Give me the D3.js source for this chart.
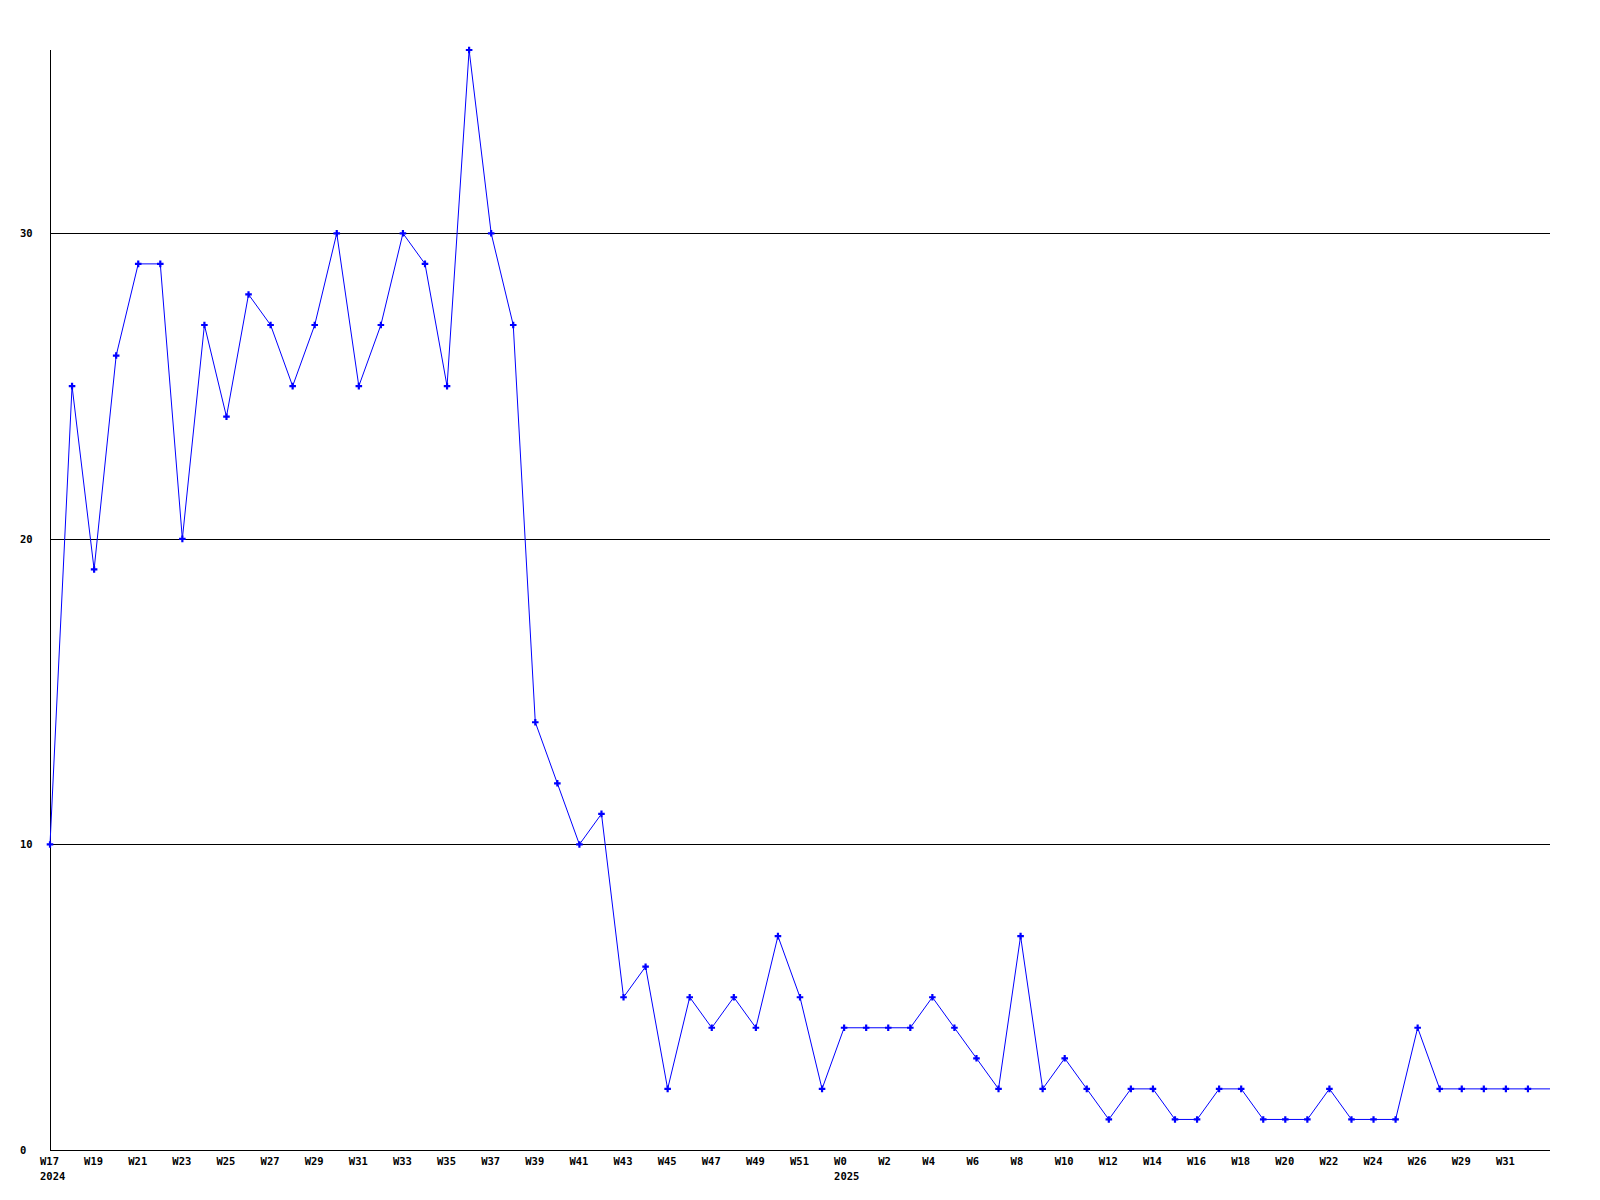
<!DOCTYPE html>
<html>
<head>
<meta charset="utf-8">
<script src="https://cdn.jsdelivr.net/npm/d3@7"></script>
<style>
  html, body { margin: 0; padding: 0; background: #fff; }
  svg { display: block; }
  text { font-family: "DejaVu Sans Mono", "Liberation Mono", monospace; font-weight: bold; font-size: 10.5px; fill: #000; }
</style>
</head>
<body>
<svg id="chart" width="1600" height="1200"></svg>
<script>
// Week categories (one per point)
const weeks = [
  "W17","W18","W19","W20","W21","W22","W23","W24","W25","W26","W27","W28",
  "W29","W30","W31","W32","W33","W34","W35","W36","W37","W38","W39","W40",
  "W41","W42","W43","W44","W45","W46","W47","W48","W49","W50","W51","W52",
  "W0","W1","W2","W3","W4","W5","W6","W7","W8","W9","W10","W11",
  "W12","W13","W14","W15","W16","W17","W18","W19","W20","W21","W22","W23",
  "W24","W25","W26","W28","W29","W30","W31","W32","W33"
];
// Values per week
const values = [
  10, 25, 19, 26, 29, 29, 20, 27, 24, 28, 27, 25,
  27, 30, 25, 27, 30, 29, 25, 36, 30, 27, 14, 12,
  10, 11, 5, 6, 2, 5, 4, 5, 4, 7, 5, 2,
  4, 4, 4, 4, 5, 4, 3, 2, 7, 2, 3, 2,
  1, 2, 2, 1, 1, 2, 2, 1, 1, 1, 2, 1,
  1, 1, 4, 2, 2, 2, 2, 2, 2
];
// Year labels: index in weeks -> year
const yearIndex = [0, 36];
const yearLabels = ["2024", "2025"];
// Y tick values
const yTicks = [0, 10, 20, 30];
const yMax = 36;

(function () {
const svg = d3.select("#chart");
const mLeft = 50, mRight = 1550, mTop = 50, mBottom = 1150;

const x = d3.scaleLinear().domain([0, weeks.length - 1]).range([mLeft, mRight]);
const y = d3.scaleLinear().domain([0, yMax]).range([mBottom, mTop]);

// Gridlines
svg.append("g").selectAll("line").data(yTicks.filter(d => d > 0)).join("line")
  .attr("x1", mLeft).attr("x2", mRight)
  .attr("y1", d => Math.round(y(d)) + 0.5).attr("y2", d => Math.round(y(d)) + 0.5)
  .attr("stroke", "#000").attr("stroke-width", 1);

// Axes lines
svg.append("line").attr("x1", mLeft + 0.5).attr("x2", mLeft + 0.5)
  .attr("y1", mTop).attr("y2", mBottom).attr("stroke", "#000");
svg.append("line").attr("x1", mLeft).attr("x2", mRight)
  .attr("y1", mBottom + 0.5).attr("y2", mBottom + 0.5).attr("stroke", "#000");

// Y labels
svg.append("g").selectAll("text").data(yTicks).join("text")
  .attr("x", 20).attr("y", d => y(d)).attr("dy", "0.35em")
  .text(d => d);

// X labels (every second week)
const xIdx = d3.range(0, weeks.length - 1, 2);
svg.append("g").selectAll("text").data(xIdx).join("text")
  .attr("x", i => x(i) - 10).attr("y", 1165)
  .text(i => weeks[i]);

svg.append("g").selectAll("text").data(yearIndex).join("text")
  .attr("x", i => x(i) - 10).attr("y", 1180)
  .text((i, k) => yearLabels[k]);

// Line
const line = d3.line().x((d, i) => x(i)).y(d => y(d));
svg.append("path").datum(values)
  .attr("d", line).attr("fill", "none")
  .attr("stroke", "#0000ff").attr("stroke-width", 1);

// Markers (last point drawn without marker, as in the reference)
const sym = d3.symbol().type(d3.symbolCross).size(24);
svg.append("g").selectAll("path").data(values.slice(0, values.length - 1)).join("path")
  .attr("transform", (d, i) => `translate(${x(i)},${y(d)})`)
  .attr("d", sym).attr("fill", "#0000ff");
})();
</script>
</body>
</html>
